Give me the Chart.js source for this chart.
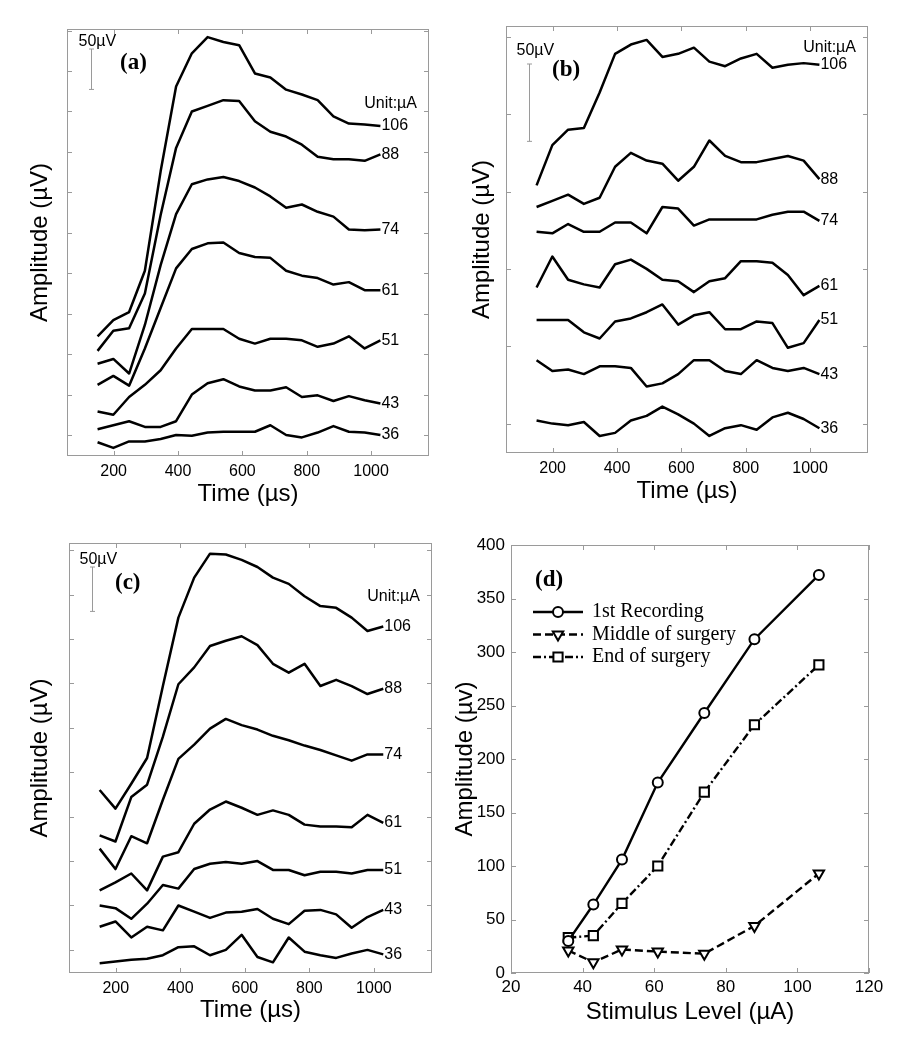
<!DOCTYPE html>
<html lang="en">
<head>
<meta charset="UTF-8">
<title>ECAP recordings</title>
<script src="https://cdn.jsdelivr.net/npm/chart.js"></script>
<style>
  html, body { margin: 0; padding: 0; background: #fff; }
  .figure { position: relative; width: 902px; height: 1050px; }
  .figure canvas { position: absolute; }
</style>
</head>
<body>
<div class="figure">
  <canvas id="chartA" width="451" height="525" style="left:0;top:0"></canvas>
  <canvas id="chartB" width="451" height="525" style="left:451px;top:0"></canvas>
  <canvas id="chartC" width="451" height="525" style="left:0;top:525px"></canvas>
  <canvas id="chartD" width="451" height="525" style="left:451px;top:525px"></canvas>
</div>
<script>
// sample times (µs), same for all traces
const timeUs = [150, 199, 248, 297, 346, 394, 443, 492, 541, 590, 639, 687, 736, 785, 834, 883, 931, 980, 1029];
const timeTicks = [200, 400, 600, 800, 1000];
const levelsUA = ['106', '88', '74', '61', '51', '43', '36'];

// (a) stacked traces in µV, top (106 µA) to bottom (36 µA)
const tracesA = [
  [122, 142, 152, 203, 326, 431, 472, 492, 486, 482, 447, 442, 427, 421, 414, 394, 385, 384, 382],
  [104, 129, 132, 175, 272, 355, 400, 407, 414, 413, 388, 375, 369, 359, 344, 341, 341, 339, 347],
  [88, 94, 76, 136, 210, 273, 310, 316, 319, 314, 306, 295, 281, 285, 276, 270, 254, 253, 254],
  [62, 73, 61, 107, 157, 206, 230, 237, 238, 225, 220, 219, 203, 197, 194, 186, 189, 179, 179],
  [29, 25, 47, 62, 80, 107, 131, 131, 131, 119, 113, 119, 119, 117, 109, 113, 122, 107, 117],
  [7, 12, 17, 10, 10, 17, 50, 64, 69, 60, 55, 55, 59, 47, 49, 42, 48, 43, 39],
  [-9, -16, -8, -8, -5, 0, -1, 3, 4, 4, 4, 12, 0, -3, 3, 11, 4, 3, 0]
];

// (b)
const tracesB = [
  [154, 180, 190, 191, 214, 239, 245, 248, 237, 239, 243, 234, 231, 236, 239, 230, 232, 233, 232],
  [140, 144, 148, 142, 146, 166, 175, 170, 168, 157, 166, 183, 173, 169, 169, 171, 173, 170, 158],
  [124, 123, 129, 124, 124, 130, 130, 123, 140, 139, 128, 132, 132, 132, 132, 135, 137, 137, 131],
  [88, 108, 93, 90, 88, 103, 106, 100, 93, 92, 85, 92, 94, 105, 105, 104, 96, 83, 89],
  [67, 67, 67, 59, 55, 66, 68, 72, 77, 64, 70, 72, 61, 61, 66, 65, 49, 52, 67],
  [41, 34, 35, 32, 37, 37, 36, 24, 26, 32, 41, 41, 34, 32, 41, 36, 34, 36, 32],
  [2, 0, -1, 1, -8, -6, 2, 5, 11, 6, 0, -8, -3, -1, -4, 4, 7, 3, -3]
];

// (c)
const tracesC = [
  [180, 159, 187, 216, 297, 374, 419, 446, 445, 439, 431, 419, 412, 398, 387, 385, 374, 359, 364],
  [129, 122, 172, 186, 240, 299, 318, 342, 348, 353, 343, 322, 312, 322, 297, 304, 297, 288, 294],
  [114, 91, 128, 120, 169, 215, 231, 249, 260, 253, 248, 241, 236, 230, 225, 219, 213, 220, 220],
  [67, 76, 86, 67, 105, 110, 142, 158, 167, 160, 152, 157, 152, 141, 139, 139, 138, 152, 143],
  [50, 47, 35, 52, 73, 69, 91, 97, 99, 97, 100, 90, 90, 84, 88, 88, 86, 90, 90],
  [26, 32, 14, 26, 22, 50, 43, 36, 42, 43, 46, 35, 29, 44, 45, 40, 25, 37, 45],
  [-15, -13, -11, -10, -6, 3, 4, -6, 0, 17, -8, -14, 14, -2, -6, -9, -4, 0, -5]
];

// (d) amplitude growth
const stimLevel = [36, 43, 51, 61, 74, 88, 106];
const firstRec = [30, 64, 106, 178, 243, 312, 372];
const midSurgery = [21, 10, 22, 20, 18, 44, 93];
const endSurgery = [33, 35, 65, 100, 169, 232, 288];

const SANS = '"Liberation Sans", Arial, Helvetica, sans-serif';
const SERIF = '"Liberation Serif", "Times New Roman", serif';
const GREY = '#9a9a9a';
Chart.defaults.font.family = SANS;
Chart.defaults.color = '#000';

function stepTicks(min, max, step) {
  const out = [];
  for (let v = Math.ceil(min / step) * step; v <= max; v += step) out.push({ value: v });
  return out;
}

// grey box with inward ticks on all four sides
const matlabBox = {
  id: 'matlabBox',
  afterDatasetsDraw(chart) {
    const { ctx, chartArea: a, scales: { x, y } } = chart;
    const len = 5;
    ctx.save();
    ctx.strokeStyle = GREY;
    ctx.lineWidth = 1;
    ctx.strokeRect(a.left + 0.5, a.top + 0.5, a.width - 1, a.height - 1);
    ctx.beginPath();
    x.ticks.forEach(t => {
      const px = Math.round(x.getPixelForValue(t.value)) + 0.5;
      ctx.moveTo(px, a.bottom); ctx.lineTo(px, a.bottom - len);
      ctx.moveTo(px, a.top); ctx.lineTo(px, a.top + len);
    });
    y.ticks.forEach(t => {
      const py = Math.round(y.getPixelForValue(t.value)) + 0.5;
      ctx.moveTo(a.left, py); ctx.lineTo(a.left + len, py);
      ctx.moveTo(a.right, py); ctx.lineTo(a.right - len, py);
    });
    ctx.stroke();
    ctx.restore();
  }
};

// stimulus level written at the end of each trace
const endLabels = {
  id: 'endLabels',
  afterDatasetsDraw(chart) {
    const ctx = chart.ctx;
    ctx.save();
    ctx.font = '16px ' + SANS;
    ctx.fillStyle = '#000';
    ctx.textBaseline = 'middle';
    chart.data.datasets.forEach((ds, i) => {
      const pts = chart.getDatasetMeta(i).data;
      const last = pts[pts.length - 1];
      ctx.fillText(ds.label, last.x + 1, last.y);
    });
    ctx.restore();
  }
};

// panel letter, 50 µV bar, unit note
const panelNotes = {
  id: 'panelNotes',
  afterDraw(chart, args, o) {
    const { ctx, chartArea: a, scales: { y } } = chart;
    ctx.save();
    ctx.fillStyle = '#000';
    ctx.textBaseline = 'middle';
    ctx.font = 'bold 23px ' + SERIF;
    ctx.fillText(o.letter, a.left + o.letterX, a.top + o.letterY);
    if (o.barX !== undefined) {
      const bx = Math.round(a.left + o.barX) + 0.5;
      const by = a.top + o.barY;
      const h = y.getPixelForValue(0) - y.getPixelForValue(50);
      ctx.strokeStyle = GREY;
      ctx.lineWidth = 1;
      ctx.beginPath();
      ctx.moveTo(bx, by); ctx.lineTo(bx, by + h);
      ctx.moveTo(bx - 2.5, by); ctx.lineTo(bx + 2.5, by);
      ctx.moveTo(bx - 2.5, by + h); ctx.lineTo(bx + 2.5, by + h);
      ctx.stroke();
      ctx.font = '16px ' + SANS;
      ctx.fillText('50\u00b5V', bx - 13, by - o.barTextY);
      ctx.textAlign = 'right';
      ctx.fillText('Unit:\u00b5A', a.right - 12, y.getPixelForValue(o.unitY));
    }
    ctx.restore();
  }
};

// legend with line sample and marker, as in the original
const lineLegend = {
  id: 'lineLegend',
  afterDraw(chart, args, o) {
    const { ctx, chartArea: a } = chart;
    ctx.save();
    ctx.font = '20px ' + SERIF;
    ctx.textBaseline = 'middle';
    chart.data.datasets.forEach((ds, i) => {
      const yy = a.top + o.top + i * o.rowGap;
      const x0 = a.left + o.left, x1 = x0 + o.lineLen;
      ctx.strokeStyle = '#000';
      ctx.lineWidth = ds.borderWidth;
      ctx.setLineDash(ds.borderDash || []);
      ctx.beginPath(); ctx.moveTo(x0, yy); ctx.lineTo(x1, yy); ctx.stroke();
      ctx.setLineDash([]);
      ctx.fillStyle = '#fff';
      ctx.lineWidth = ds.pointBorderWidth;
      Chart.helpers.drawPoint(ctx, {
        pointStyle: ds.pointStyle, radius: ds.pointRadius,
        rotation: ds.pointRotation || 0, borderWidth: ds.pointBorderWidth
      }, (x0 + x1) / 2, yy);
      ctx.fillStyle = '#000';
      ctx.fillText(ds.label, x1 + o.gap, yy);
    });
    ctx.restore();
  }
};

const plainNumber = v => String(v);

function traceChart(id, traces, yMin, yMax, box, notes) {
  const datasets = traces.map((vals, i) => ({
    label: levelsUA[i],
    data: timeUs.map((t, k) => ({ x: t, y: vals[k] })),
    borderColor: '#000',
    borderWidth: 2.5,
    borderJoinStyle: 'round',
    pointRadius: 0,
    fill: false
  }));
  return new Chart(document.getElementById(id), {
    type: 'line',
    data: { datasets },
    options: {
      responsive: false,
      animation: false,
      events: [],
      layout: { padding: { top: box.top, right: box.right, left: 0, bottom: 0 } },
      plugins: { legend: { display: false }, tooltip: { enabled: false }, panelNotes: notes },
      scales: {
        x: {
          type: 'linear', min: 55, max: 1180,
          afterBuildTicks: s => { s.ticks = timeTicks.map(v => ({ value: v })); },
          afterFit: s => { s.height = box.xh; },
          grid: { display: false, drawTicks: false },
          border: { display: false },
          ticks: { font: { size: 16 }, padding: 6, color: '#000', callback: plainNumber },
          title: { display: true, text: 'Time (\u00b5s)', font: { size: 24, lineHeight: 1 }, padding: { bottom: box.xt }, color: '#000' }
        },
        y: {
          type: 'linear', min: yMin, max: yMax,
          afterBuildTicks: s => { s.ticks = stepTicks(yMin, yMax, 50); },
          afterFit: s => { s.width = box.yw; },
          grid: { display: false, drawTicks: false },
          border: { display: false },
          ticks: { display: false },
          title: { display: true, text: 'Amplitude (\u00b5V)', font: { size: 24, lineHeight: 1 }, padding: { top: box.yt }, color: '#000' }
        }
      }
    },
    plugins: [matlabBox, endLabels, panelNotes]
  });
}

traceChart('chartA', tracesA, -26, 502,
  { top: 29, right: 22, xh: 69, yw: 67, xt: 19, yt: 28 },
  { letter: '(a)', letterX: 53, letterY: 34, barX: 24, barY: 20, barTextY: 7, unitY: 410 });

traceChart('chartB', tracesB, -19, 257,
  { top: 26, right: 34, xh: 72, yw: 55, xt: 22, yt: 19 },
  { letter: '(b)', letterX: 46, letterY: 44, barX: 23, barY: 38, barTextY: 13, unitY: 243 });

traceChart('chartC', tracesC, -26, 458,
  { top: 18, right: 19, xh: 77, yw: 69, xt: 28, yt: 28 },
  { letter: '(c)', letterX: 46, letterY: 40, barX: 23, barY: 24, barTextY: 7, unitY: 398 });

// (d)
const pointsOf = vals => stimLevel.map((x, i) => ({ x, y: vals[i] }));
new Chart(document.getElementById('chartD'), {
  type: 'line',
  data: {
    datasets: [
      { label: '1st Recording', data: pointsOf(firstRec), borderColor: '#000', borderWidth: 2.4,
        pointStyle: 'circle', pointRadius: 5, pointBorderWidth: 2, pointBorderColor: '#000', pointBackgroundColor: '#fff' },
      { label: 'Middle of surgery', data: pointsOf(midSurgery), borderColor: '#000', borderWidth: 2.4, borderDash: [8, 4],
        pointStyle: 'triangle', pointRotation: 180, pointRadius: 6, pointBorderWidth: 2, pointBorderColor: '#000', pointBackgroundColor: '#fff' },
      { label: 'End of surgery', data: pointsOf(endSurgery), borderColor: '#000', borderWidth: 2.4, borderDash: [8, 3, 2, 3],
        pointStyle: 'rect', pointRadius: 6.5, pointBorderWidth: 2, pointBorderColor: '#000', pointBackgroundColor: '#fff' }
    ]
  },
  options: {
    responsive: false,
    animation: false,
    events: [],
    layout: { padding: { top: 20, right: 33, left: 0, bottom: 0 } },
    plugins: {
      legend: { display: false }, tooltip: { enabled: false },
      panelNotes: { letter: '(d)', letterX: 24, letterY: 35 },
      lineLegend: { top: 67, rowGap: 22.5, left: 22, lineLen: 50, gap: 9 }
    },
    scales: {
      x: {
        type: 'linear', min: 20, max: 120,
        afterFit: s => { s.height = 77; },
        grid: { display: false, drawTicks: false },
        border: { display: false },
        ticks: { stepSize: 20, font: { size: 17 }, padding: 4, color: '#000', callback: plainNumber },
        title: { display: true, text: 'Stimulus Level (\u00b5A)', font: { size: 24, lineHeight: 1 }, padding: { bottom: 26 }, color: '#000' }
      },
      y: {
        type: 'linear', min: 0, max: 400,
        afterFit: s => { s.width = 60; },
        grid: { display: false, drawTicks: false },
        border: { display: false },
        ticks: { stepSize: 50, font: { size: 17 }, padding: 6, color: '#000', callback: plainNumber },
        title: { display: true, text: 'Amplitude (\u00b5v)', font: { size: 24, lineHeight: 1 }, padding: { top: 2 }, color: '#000' }
      }
    }
  },
  plugins: [matlabBox, panelNotes, lineLegend]
});
</script>
</body>
</html>
